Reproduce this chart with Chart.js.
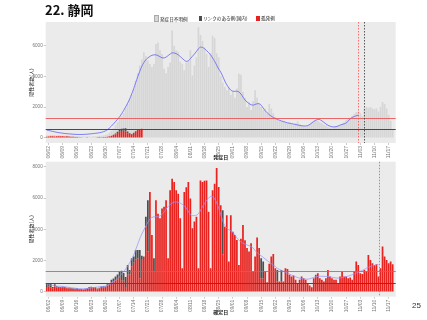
<!DOCTYPE html>
<html>
<head>
<meta charset="utf-8">
<script src="https://cdn.jsdelivr.net/npm/chart.js@4.4.1/dist/chart.umd.min.js"></script>
<style>
body { margin: 0; width: 427px; height: 320px; background: #fff; position: relative; overflow: hidden;
  font-family: 'Noto Sans CJK JP', 'Noto Sans', sans-serif; }
canvas { position: absolute; left: 0; }
#title { position: absolute; left: 45px; top: 0; font-size: 13px; line-height: 20px; font-weight: bold; color: #111; }
.lg { position: absolute; top: 15px; font-size: 4.6px; line-height: 6px; color: #222; white-space: nowrap; }
.sw { display: inline-block; width: 3px; height: 4.5px; margin-right: 1px; vertical-align: -0.5px; }
#page { position: absolute; left: 412px; top: 301px; font-size: 8px; line-height: 10px; color: #333;
  font-family: 'Liberation Sans', sans-serif; }
</style>
</head>
<body>
<canvas id="top" width="427" height="165" style="top:0"></canvas>
<canvas id="bottom" width="427" height="162" style="top:158px"></canvas>
<div id="title">22. 静岡</div>
<div class="lg" style="left:154px"><span class="sw" style="background:#d6d6d6;border:0.3px solid #aaa"></span>発症日不明例</div>
<div class="lg" style="left:199px"><span class="sw" style="background:#4d4d4d"></span>リンクのある例(国内)</div>
<div class="lg" style="left:256px"><span class="sw" style="background:#e8231f;width:4px"></span>孤発例</div>
<div id="page">25</div>
<script>
// 日付: 06/01 - 11/20
const firstDay = [2020, 5, 1];
const dayCount = 173;
const tickLabels = ['06/02','06/09','06/16','06/23','06/30','07/07','07/14','07/21','07/28','08/04','08/11','08/18',
  '08/25','09/01','09/08','09/15','09/22','09/29','10/06','10/13','10/20','10/27','11/03','11/10','11/17'];
const topYTicks = [0, 2000, 4000, 6000];
const bottomYTicks = [0, 2000, 4000, 6000, 8000];

// 発症日ベース
const topSporadic = [
  60, 80, 100, 90, 80, 90, 100,
  90, 100, 80, 90, 80, 70, 60,
  50, 40, 30, 30, 20, 20, 30,
  20, 10, 20, 20, 30, 40, 30,
  40, 50, 60, 80, 120, 170, 220,
  300, 380, 430, 460, 400, 280, 250,
  200, 300, 420, 520, 560, 580];
const topLinked = [
  0, 0, 0, 0, 0, 0, 0,
  0, 0, 0, 0, 0, 0, 0,
  0, 0, 0, 0, 0, 0, 0,
  0, 0, 0, 0, 0, 0, 0,
  0, 0, 10, 20, 10, 30, 50,
  80, 120, 150, 140, 220, 120, 60,
  40, 30, 20, 10, 0, 0];
const topUnknown = [
  80, 60, 70, 80, 90, 60, 70,
  60, 50, 70, 60, 50, 60, 70,
  60, 70, 60, 50, 70, 60, 60,
  70, 60, 80, 70, 60, 80, 90,
  100, 120, 150, 220, 320, 400, 530,
  620, 700, 820, 1000, 1280, 1800, 2190,
  2560, 2870, 3260, 3670, 4140, 4520, 5570,
  5300, 5030, 4800, 4600, 4800, 6100, 6200,
  5700, 5460, 4500, 4200, 4600, 4900, 6980,
  6000, 5700, 5600, 4950, 4800, 4400, 4900,
  5000, 5700, 4050, 4700, 5250, 7190, 6700,
  6300, 5900, 5470, 4600, 5500, 6650, 6500,
  5500, 5250, 4000, 3600, 3300, 3100, 3300,
  2800, 3000, 2600, 3200, 4170, 4100, 3000,
  2600, 2000, 2300, 1800, 2400, 3090, 2600,
  2200, 2000, 1800, 1900, 1600, 2200, 1900,
  1600, 1350, 1150, 1100, 1050, 1100, 1000,
  950, 1000, 900, 850, 950, 1050, 900,
  800, 750, 700, 800, 900, 1000, 1100,
  1150, 1100, 1000, 950, 850, 800, 700,
  650, 600, 650, 700, 750, 800, 900,
  1000, 1150, 1250, 1300, 1400, 1550, 1680,
  1700, 1600, 1400, 1900, 2000, 1950, 2000,
  1900, 1850, 1900, 1700, 2000, 2330, 2200,
  1900, 1500, 1100, 500];
const topAverage = [
  500, 470, 440, 410, 380, 350, 330,
  310, 290, 275, 260, 250, 240, 230,
  220, 215, 210, 210, 215, 220, 230,
  240, 255, 270, 285, 300, 320, 350,
  390, 440, 520, 630, 760, 900, 1050,
  1200, 1360, 1550, 1770, 2000, 2250, 2520,
  2850, 3200, 3600, 3980, 4330, 4650, 4900,
  5080, 5200, 5300, 5370, 5400, 5400, 5350,
  5280, 5210, 5200, 5250, 5350, 5450, 5530,
  5520, 5480, 5400, 5290, 5170, 5050, 4970,
  5020, 5150, 5300, 5450, 5620, 5800, 5900,
  5880, 5800, 5680, 5550, 5400, 5200, 4980,
  4730, 4480, 4280, 4000, 3700, 3450, 3250,
  3100, 3030, 3020, 3030, 2980, 2850, 2650,
  2460, 2330, 2230, 2150, 2120, 2170, 2210,
  2220, 2120, 1930, 1760, 1620, 1500, 1400,
  1320, 1250, 1190, 1140, 1090, 1050, 1010,
  970, 940, 920, 890, 860, 830, 800,
  780, 765, 760, 790, 860, 960, 1060,
  1140, 1190, 1180, 1100, 1000, 900, 810,
  750, 710, 700, 720, 760, 820, 870,
  900, 960, 1080, 1230, 1320, 1380, 1430,
  1470];

// 確定日ベース
const bottomSporadic = [
  300, 330, 280, 200, 330, 270, 260,
  240, 280, 260, 220, 210, 200, 190,
  160, 180, 140, 130, 110, 150, 180,
  260, 280, 270, 240, 160, 210, 250,
  270, 260, 400, 450, 610, 650, 730,
  800, 900, 700, 700, 300, 1080, 1100,
  1640, 1850, 2080, 2130, 870, 2100, 2250,
  4200, 2600, 6390, 3630, 1300, 5860, 5000,
  4700, 5330, 5440, 5860, 2140, 6500, 7240,
  7030, 6500, 6280, 4700, 1500, 6390, 6700,
  7030, 5970, 4060, 4500, 4800, 1500, 7130,
  7030, 7110, 7130, 5120, 1500, 6500, 6920,
  7920, 6710, 5540, 2400, 4160, 4900, 1930,
  4900, 3840, 3630, 3310, 1720, 3400, 4270,
  3300, 2800, 2570, 3100, 1300, 2250, 3480,
  2800, 870, 830, 1300, 600, 1800, 2250,
  2420, 1500, 660, 660, 660, 660, 1500,
  1460, 1080, 980, 1040, 760, 550, 760,
  980, 870, 760, 550, 400, 280, 870,
  1080, 1190, 870, 760, 660, 870, 1400,
  980, 870, 760, 760, 550, 980, 1300,
  980, 980, 870, 910, 760, 1300, 1930,
  1720, 1190, 1130, 1400, 1300, 2360, 2040,
  1830, 1720, 1760, 980, 1500, 2890, 2250,
  2040, 1830, 1930, 1760];
const bottomLinked = [
  250, 200, 220, 100, 150, 80, 40,
  40, 40, 40, 40, 40, 40, 40,
  40, 40, 40, 40, 40, 40, 40,
  40, 40, 40, 40, 40, 40, 80,
  80, 80, 80, 100, 150, 200, 250,
  300, 400, 650, 500, 650, 640, 300,
  500, 400, 600, 550, 1810, 200, 0,
  600, 3260, 0, 0, 840, 0, 0,
  0, 0, 0, 0, 0, 0, 0,
  0, 0, 0, 0, 0, 0, 0,
  0, 0, 0, 0, 0, 0, 0,
  0, 0, 0, 0, 0, 0, 0,
  0, 0, 0, 2820, 0, 0, 0,
  0, 0, 0, 0, 0, 0, 0,
  0, 0, 0, 0, 0, 0, 0,
  0, 1270, 1100, 0, 0, 0, 0,
  0, 0, 740, 0, 740];
const bottomAverage = [
  450, 440, 420, 400, 380, 360, 350,
  345, 340, 320, 300, 280, 260, 240,
  225, 210, 200, 195, 190, 195, 205,
  220, 240, 260, 280, 300, 320, 335,
  340, 360, 400, 460, 540, 630, 740,
  860, 990, 1130, 1280, 1450, 1630, 1850,
  2080, 2350, 2700, 3050, 3400, 3700, 3950,
  4200, 4450, 4650, 4750, 4800, 4800, 4800,
  4850, 4950, 5100, 5300, 5450, 5580, 5680,
  5740, 5750, 5730, 5680, 5600, 5500, 5350,
  5150, 4950, 4880, 4880, 4900, 5000, 5200,
  5450, 5650, 5850, 6000, 6110, 6080, 5950,
  5700, 5350, 4950, 4550, 4250, 4080, 3970,
  3900, 3800, 3650, 3450, 3300, 3200, 3100,
  3050, 3000, 2950, 2890, 2800, 2650, 2500,
  2400, 2300, 2200, 2100, 2000, 1900, 1800,
  1700, 1620, 1500, 1430, 1370, 1310, 1250,
  1190, 1130, 1070, 1010, 960, 910, 870,
  840, 820, 810, 800, 830, 870, 920,
  960, 980, 990, 990, 985, 980, 975,
  960, 930, 900, 880, 870, 880, 910,
  940, 970, 1000, 1040, 1090, 1140, 1190,
  1250, 1310, 1370, 1430, 1500, 1560, 1620,
  1660, 1690, 1720, 1730];

const redLevel = 1300;
const darkLevel = 535;
const topMarks = [{date: '11/02', color: '#ff4d4d'}, {date: '11/05', color: '#333'}];
const bottomMarks = [{date: '11/12', color: '#ff4d4d'}];

const days = [];
for (let i = 0; i < dayCount; i++) {
  const d = new Date(firstDay[0], firstDay[1], firstDay[2] + i);
  days.push(String(d.getMonth() + 1).padStart(2, '0') + '/' + String(d.getDate()).padStart(2, '0'));
}

const panel = {
  id: 'panel',
  beforeDraw(chart) {
    const {ctx, chartArea: a} = chart;
    ctx.save();
    ctx.fillStyle = '#ebebeb';
    ctx.fillRect(a.left, a.top, a.width, a.height);
    ctx.restore();
  },
  afterDatasetsDraw(chart, args, opts) {
    const {ctx, chartArea: a, scales: {x, y}} = chart;
    ctx.save();
    [[redLevel, 'rgba(235,80,80,0.85)'], [darkLevel, '#4a4a4a']].forEach(([v, c]) => {
      const py = Math.round(y.getPixelForValue(v)) + 0.5;
      ctx.strokeStyle = c; ctx.lineWidth = 1;
      ctx.beginPath(); ctx.moveTo(a.left, py); ctx.lineTo(a.right, py); ctx.stroke();
    });
    ctx.setLineDash([1.5, 1.5]);
    opts.marks.forEach(m => {
      const px = Math.round(x.getPixelForValue(days.indexOf(m.date))) + 0.5;
      ctx.strokeStyle = m.color; ctx.lineWidth = 0.8;
      ctx.beginPath(); ctx.moveTo(px, a.top); ctx.lineTo(px, a.bottom); ctx.stroke();
    });
    ctx.restore();
  }
};

Chart.defaults.font.family = "'Liberation Sans', 'Noto Sans CJK JP', sans-serif";
Chart.defaults.animation = false;

function barSet(data, color) {
  return {type: 'bar', data, backgroundColor: color, stack: 'cases', order: 1,
    categoryPercentage: 1, barPercentage: 0.85};
}
function avgSet(data, color) {
  return {type: 'line', data, borderColor: color, borderWidth: 1, pointRadius: 0,
    tension: 0.3, stack: 'avg', order: 0};
}
function makeOptions(yMin, yMax, yTicks, xTitle, xHeight, xTitlePad, marks, padTop) {
  return {
    responsive: false,
    layout: {padding: {top: padTop, right: 31.3, left: 0, bottom: 0}},
    plugins: {legend: {display: false}, tooltip: {enabled: false}, panel: {marks}},
    scales: {
      x: {
        stacked: true, offset: true,
        grid: {display: true, drawOnChartArea: false, offset: false, tickLength: 2, color: '#999', lineWidth: 0.5},
        border: {display: false},
        ticks: {autoSkip: false, minRotation: 90, maxRotation: 90, padding: 1,
          font: {size: 5}, color: '#777',
          callback: (v, i) => tickLabels.includes(days[i]) ? days[i] : null},
        title: {display: true, text: xTitle, color: '#222',
          font: {family: "'Noto Sans CJK JP', sans-serif", size: 5, weight: 'bold'},
          padding: {top: 0, bottom: xTitlePad}},
        afterFit: s => { s.height = xHeight; }
      },
      y: {
        stacked: true, min: yMin, max: yMax,
        afterBuildTicks: s => { s.ticks = yTicks.map(v => ({value: v})); },
        grid: {display: true, drawOnChartArea: false, tickLength: 2, color: '#999', lineWidth: 0.5},
        border: {display: false},
        ticks: {font: {size: 4.6}, color: '#777', padding: 1, callback: v => v},
        title: {display: true, text: '陽性者数(人)', color: '#222',
          font: {family: "'Noto Sans CJK JP', sans-serif", size: 5},
          padding: {top: 28, bottom: 0}},
        afterFit: s => { s.width = 45.7; }
      }
    }
  };
}

new Chart('top', {
  data: {
    labels: days,
    datasets: [
      barSet(topSporadic, '#e8231f'),
      barSet(topLinked, '#4d4d4d'),
      barSet(topUnknown, '#d6d6d6'),
      avgSet(topAverage, 'rgba(105,105,245,0.85)')
    ]
  },
  options: makeOptions(-345, 7540, topYTicks, '発症日', 22, 4.5, topMarks, 22),
  plugins: [panel]
});

new Chart('bottom', {
  data: {
    labels: days,
    datasets: [
      barSet(bottomSporadic, '#e8231f'),
      barSet(bottomLinked, '#4d4d4d'),
      avgSet(bottomAverage, 'rgba(150,150,255,0.75)')
    ]
  },
  options: makeOptions(-318, 8325, bottomYTicks, '確定日', 23.3, 5.4, bottomMarks, 3),
  plugins: [panel]
});
</script>
</body>
</html>
